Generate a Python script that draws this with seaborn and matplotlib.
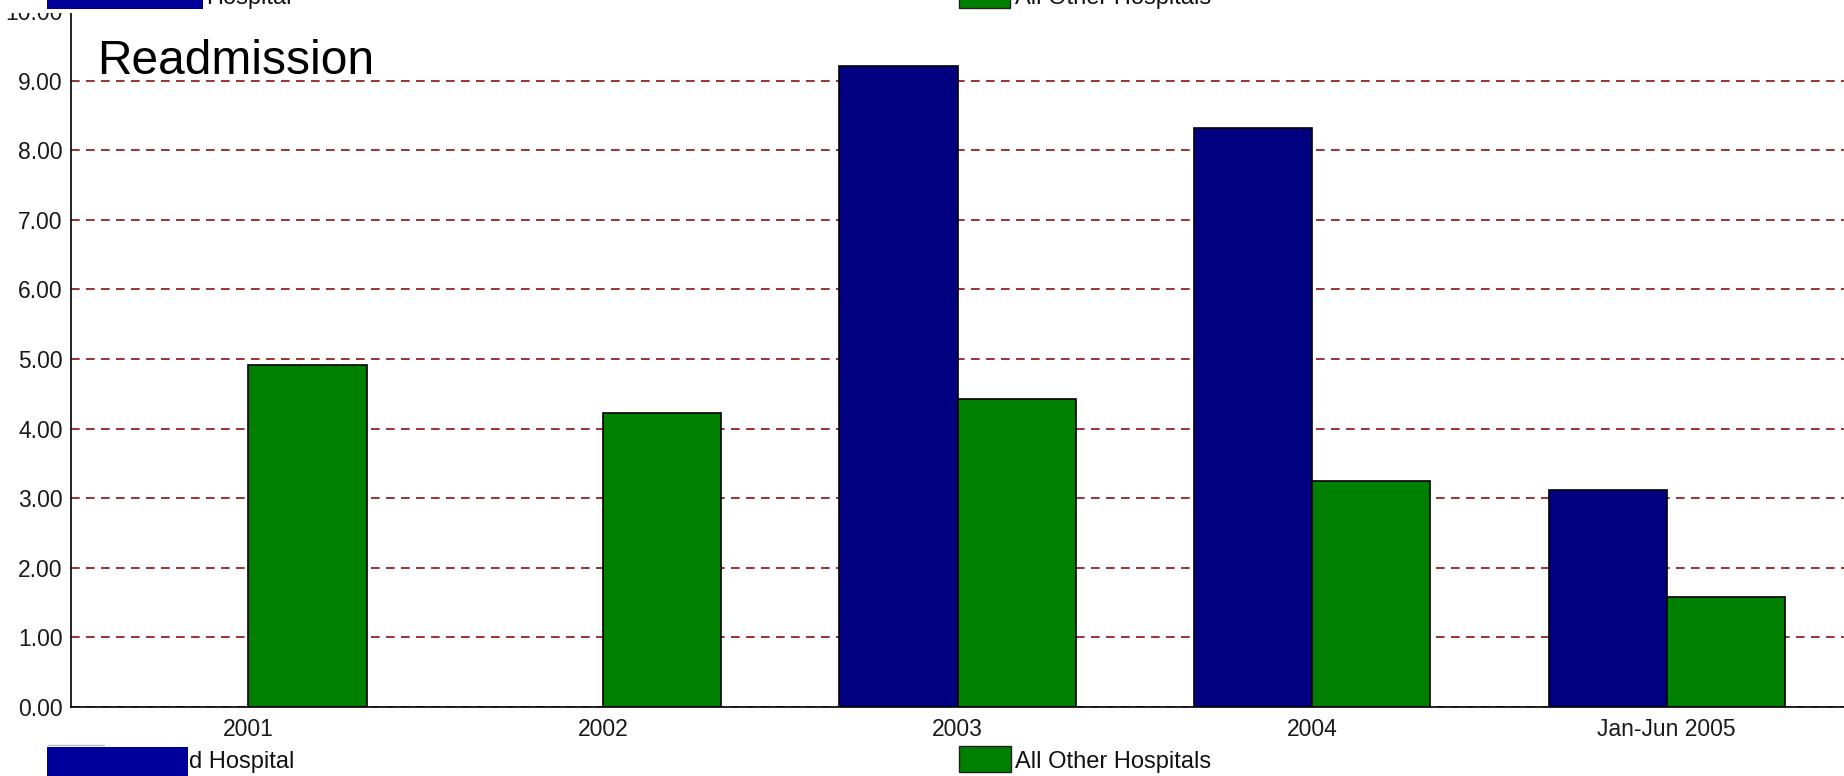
import matplotlib
matplotlib.use("Agg")
import matplotlib.pyplot as plt
import seaborn as sns
import pandas as pd
import numpy as np
from matplotlib.patches import Rectangle
from matplotlib.lines import Line2D

# ---- data ----
periods = ["2001", "2002", "2003", "2004", "Jan-Jun 2005"]
hospital = [np.nan, np.nan, 9.21, 8.32, 3.12]
all_other = [4.92, 4.23, 4.42, 3.25, 1.58]
series_names = ["Hospital", "All Other Hospitals"]
series_colors = ["#000080", "#008000"]
yticks = [0, 1, 2, 3, 4, 5, 6, 7, 8, 9, 10]
title_text = "Readmission"

df = pd.DataFrame({
    "Period": periods * 2,
    "Rate": hospital + all_other,
    "Series": [series_names[0]] * len(periods) + [series_names[1]] * len(periods),
}).dropna()

sns.set_theme(style="white")
plt.rcParams["font.family"] = ["Liberation Sans", "DejaVu Sans"]

W, H = 1844, 776
fig = plt.figure(figsize=(W / 100, H / 100), dpi=100)
fig.patch.set_facecolor("white")
ax = fig.add_axes([71 / W, 1 - 707 / H, 1 - 71 / W, (707 - 11) / H])

sns.barplot(data=df, x="Period", y="Rate", hue="Series", order=periods,
            hue_order=series_names, palette=series_colors, width=2 / 3,
            edgecolor="black", linewidth=1.2, saturation=1, legend=False,
            errorbar=None, ax=ax)

ax.set_xlim(-0.5, len(periods) - 0.5)
ax.set_ylim(0, 10)
ax.set_xlabel("")
ax.set_ylabel("")
ax.set_yticks(yticks)
ax.set_yticklabels([f"{v:.2f}" for v in yticks])
ax.yaxis.grid(True, color="#8B1010", linestyle=(0, (5.2, 3.8)), linewidth=1.2)
ax.xaxis.grid(False)
ax.set_axisbelow(True)
for s in ["top", "right"]:
    ax.spines[s].set_visible(False)
for s in ["left", "bottom"]:
    ax.spines[s].set_color("black")
    ax.spines[s].set_linewidth(1.2)
ax.tick_params(axis="both", which="major", direction="out", length=5, width=1,
               color="black", labelsize=16.5, labelcolor="#1a1a1a")
ax.tick_params(axis="y", pad=1)
ax.tick_params(axis="x", pad=3)
ax.set_facecolor("white")

ax.text(-0.426, 9.1, title_text, fontsize=34.5, va="baseline", ha="left", color="black")

def px_rect(x0, y0, x1, y1, **kw):
    fig.add_artist(Rectangle((x0 / W, 1 - y1 / H), (x1 - x0) / W, (y1 - y0) / H,
                             transform=fig.transFigure, **kw))

def px_text(x, y, s, **kw):
    fig.text(x / W, 1 - y / H, s, transform=fig.transFigure, **kw)

# white strip at top (overlapping image of previous chart's legend)
px_rect(0, -5, W, 12.5, facecolor="white", edgecolor="none", zorder=10)

# top (cut-off) legend
px_rect(47, -5, 203, 9.3, facecolor="#00009A", edgecolor="none", zorder=11)
px_text(206, 4, "Hospital", fontsize=17, va="baseline", ha="left", color="#111111", zorder=11)
px_rect(959, -20, 1010, 8.4, facecolor=series_colors[1], edgecolor="#222222", linewidth=1, zorder=11)
px_text(1015, 4, series_names[1], fontsize=17, va="baseline", ha="left", color="#111111", zorder=11)

# bottom legend
fig.add_artist(Line2D([48 / W, 104 / W], [1 - 745 / H, 1 - 745 / H], color="#bbbbbb",
                      linewidth=1, transform=fig.transFigure, zorder=11))
px_rect(47, 747, 188, 780, facecolor="#00009A", edgecolor="none", zorder=11)
px_text(189, 768, "d Hospital", fontsize=17, va="baseline", ha="left", color="#111111", zorder=11)
px_rect(959, 746, 1011, 772, facecolor=series_colors[1], edgecolor="#222222", linewidth=1, zorder=11)
px_text(1015, 768, series_names[1], fontsize=17, va="baseline", ha="left", color="#111111", zorder=11)

fig.savefig("out.png", dpi=100, facecolor="white")
